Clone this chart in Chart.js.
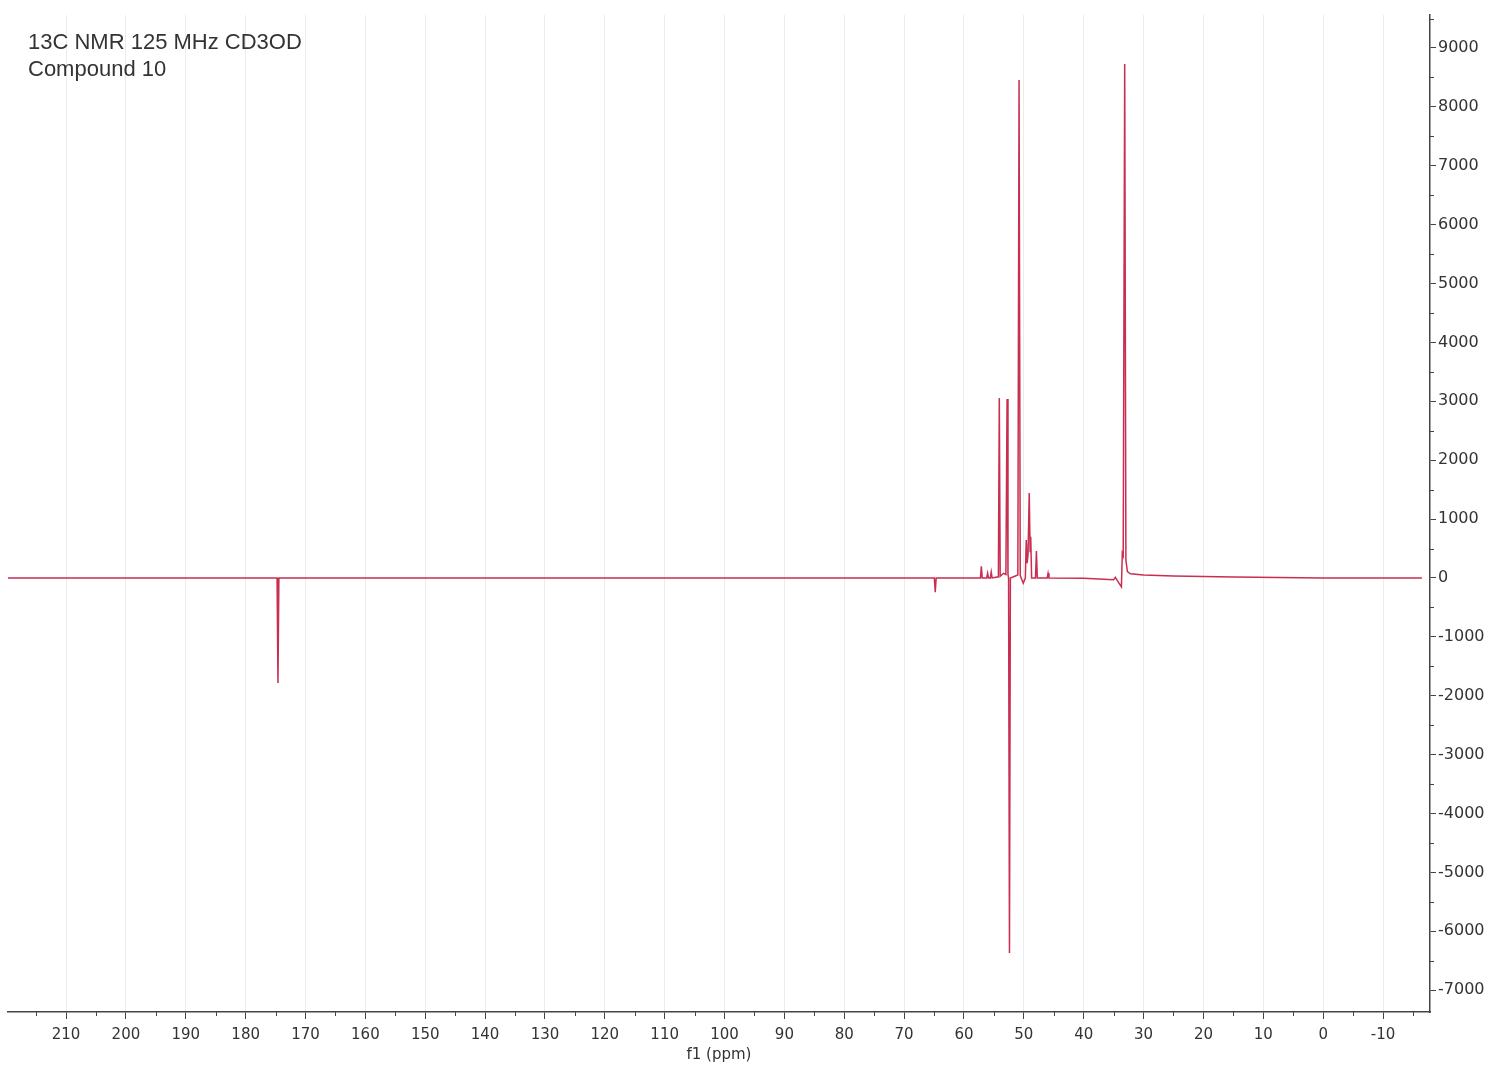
<!DOCTYPE html>
<html>
<head>
<meta charset="utf-8">
<script src="https://cdn.jsdelivr.net/npm/chart.js@4.4.1/dist/chart.umd.min.js"></script>
<style>
  body { margin: 0; background: #fff; }
</style>
</head>
<body>
<canvas id="nmrGraph" width="1489" height="1069"></canvas>
<script>
const titleLines = ['13C NMR 125 MHz CD3OD', 'Compound 10']

// chemical shift (ppm) and intensity
const ppm = [219.7, 174.75, 174.6, 174.45, 64.95, 64.8, 64.65, 57.25, 57.1, 56.95,
    56.2, 56.05, 55.9, 55.6, 55.45, 55.3, 54.25, 54.1, 53.95, 53.4,
    53.0, 52.8, 52.65, 52.55, 52.4, 52.25, 51.0, 50.8, 50.6, 50.1,
    49.75, 49.6, 49.45, 49.3, 49.1, 48.95, 48.85, 48.7, 48.05, 47.9,
    47.75, 46.1, 45.95, 45.8, 40.0, 35.0, 34.7, 34.4, 33.7, 33.55,
    33.4, 33.15, 32.95, 32.7, 32.2, 30.0, 25.0, 15.0, 0.0, -16.5]
const intensity = [0, 0, -1783, 0, 0, -240, 0, 0, 200, 0,
    0, 80, 0, 0, 100, 0, 20, 3056, 30, 80,
    60, 3040, 60, 0, -6367, 0, 50, 8455, 40, -90,
    0, 645, 250, 400, 1443, 450, 700, 0, 0, 458,
    0, 0, 80, 0, -5, -30, 10, -40, -150, 420,
    380, 8727, 300, 110, 70, 50, 35, 15, 0, 0]

const xTickValues = [215, 210, 205, 200, 195, 190, 185, 180, 175, 170, 165, 160, 155, 150,
    145, 140, 135, 130, 125, 120, 115, 110, 105, 100, 95, 90, 85, 80, 75, 70, 65, 60,
    55, 50, 45, 40, 35, 30, 25, 20, 15, 10, 5, 0, -5, -10, -15]
const yTickValues = [9500, 9000, 8500, 8000, 7500, 7000, 6500, 6000, 5500, 5000, 4500,
    4000, 3500, 3000, 2500, 2000, 1500, 1000, 500, 0, -500, -1000, -1500, -2000, -2500,
    -3000, -3500, -4000, -4500, -5000, -5500, -6000, -6500, -7000]

const axisColor = '#444'
const textColor = '#333'
const tickFont = { family: 'DejaVu Sans', size: 15 }

const isMajorX = v => v % 10 === 0
const isMajorY = v => v % 1000 === 0

const decorations = {
    id: 'decorations',
    afterDraw(chart) {
        const ctx = chart.ctx
        const xs = chart.scales.x
        const ys = chart.scales.y
        ctx.save()
        ctx.strokeStyle = axisColor
        ctx.lineWidth = 1
        // minor ticks
        xs.ticks.forEach(t => {
            if (isMajorX(t.value)) return
            const px = Math.round(xs.getPixelForValue(t.value)) + 0.5
            ctx.beginPath()
            ctx.moveTo(px, xs.top)
            ctx.lineTo(px, xs.top + 4)
            ctx.stroke()
        })
        ys.ticks.forEach(t => {
            if (isMajorY(t.value)) return
            const py = Math.round(ys.getPixelForValue(t.value)) + 0.5
            ctx.beginPath()
            ctx.moveTo(ys.left, py)
            ctx.lineTo(ys.left + 4, py)
            ctx.stroke()
        })
        // caption in the top left corner
        ctx.fillStyle = textColor
        ctx.font = '22px "Liberation Sans", Arial, sans-serif'
        ctx.textBaseline = 'middle'
        titleLines.forEach((line, i) => {
            ctx.fillText(line, chart.chartArea.left + 20, 43 + i * 27)
        })
        ctx.restore()
    }
}

const nmrChart = new Chart(
    document.getElementById('nmrGraph'),
    {
        type: 'line',
        data: {
            datasets: [
                {
                    data: ppm.map((p, i) => ({ x: p, y: intensity[i] })),
                    borderColor: '#c92d51',
                    borderWidth: 1.5,
                    pointRadius: 0,
                    tension: 0,
                    fill: false,
                },
            ],
        },
        options: {
            responsive: false,
            animation: false,
            layout: {
                padding: { left: 8, top: 15, right: 0, bottom: 0 }
            },
            scales: {
                x: {
                    type: 'linear',
                    reverse: true,
                    min: -17.85,
                    max: 219.7,
                    afterBuildTicks: scale => {
                        scale.ticks = xTickValues.map(v => ({ value: v }))
                    },
                    afterFit: scale => { scale.height = 57 },
                    ticks: {
                        autoSkip: false,
                        maxRotation: 0,
                        padding: 7,
                        color: textColor,
                        font: tickFont,
                        callback: v => isMajorX(v) ? String(v) : '',
                    },
                    grid: {
                        color: c => c.tick && isMajorX(c.tick.value) ? '#ececec' : 'rgba(0,0,0,0)',
                        tickColor: c => c.tick && isMajorX(c.tick.value) ? axisColor : 'rgba(0,0,0,0)',
                        tickLength: 7,
                    },
                    border: { color: axisColor, width: 1.5 },
                    title: {
                        display: true,
                        text: 'f1 (ppm)',
                        color: textColor,
                        font: tickFont,
                        padding: { top: 0, bottom: 5 },
                    },
                },
                y: {
                    type: 'linear',
                    position: 'right',
                    min: -7370,
                    max: 9560,
                    afterBuildTicks: scale => {
                        scale.ticks = yTickValues.map(v => ({ value: v }))
                    },
                    afterFit: scale => { scale.width = 59 },
                    ticks: {
                        autoSkip: false,
                        padding: 2,
                        color: textColor,
                        font: { family: 'DejaVu Sans', size: 16 },
                        callback: v => isMajorY(v) ? String(v) : '',
                    },
                    grid: {
                        drawOnChartArea: false,
                        tickColor: c => c.tick && isMajorY(c.tick.value) ? axisColor : 'rgba(0,0,0,0)',
                        tickLength: 6,
                    },
                    border: { color: axisColor, width: 1.5 },
                },
            },
            plugins: {
                legend: { display: false },
                tooltip: { enabled: false },
            },
        },
        plugins: [decorations],
    }
);
</script>
</body>
</html>
